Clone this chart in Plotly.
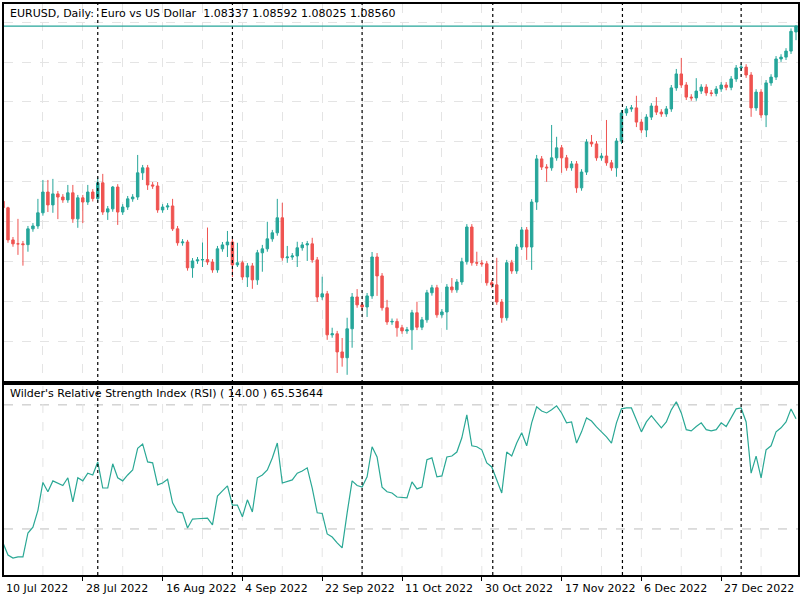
import plotly.graph_objects as go

closes = [1.0165,1.0043,1.0028,1.0028,1.0025,1.0085,1.0096,1.0146,1.0225,1.0176,
1.0218,1.0206,1.0195,1.0222,1.0123,1.0203,1.0187,1.0225,1.0200,1.0260,
1.0149,1.0161,1.0244,1.0149,1.0168,1.0199,1.0206,1.0298,1.0317,1.0252,
1.0248,1.0157,1.0168,1.0172,1.0085,1.0032,1.0035,0.9937,0.9963,0.9967,
0.9968,0.9959,0.9929,1.0009,1.0024,1.0035,0.9948,0.9956,0.9902,0.9944,
0.9891,0.9994,1.0009,1.0047,1.0070,1.0127,0.9975,0.9978,0.9982,1.0013,
1.0024,1.0028,0.9967,0.9826,0.9838,0.9682,0.9686,0.9617,0.9595,0.9705,
0.9826,0.9796,0.9788,0.9830,0.9978,0.9906,0.9785,0.9731,0.9733,0.9709,
0.9697,0.9701,0.9766,0.9711,0.9739,0.9842,0.9861,0.9758,0.9769,0.9864,
0.9853,0.9883,0.9960,1.0092,0.9956,0.9955,0.9952,0.9880,0.9872,0.9807,
0.9747,0.9956,0.9925,1.0016,1.0081,1.0016,1.0187,1.0351,1.0320,1.0317,
1.0355,1.0393,1.0355,1.0317,1.0332,1.0241,1.0301,1.0415,1.0408,1.0355,
1.0362,1.0336,1.0317,1.0419,1.0526,1.0541,1.0545,1.0491,1.0461,1.0510,
1.0552,1.0529,1.0522,1.0541,1.0621,1.0674,1.0632,1.0586,1.0583,1.0609,
1.0624,1.0602,1.0600,1.0617,1.0632,1.0623,1.0655,1.0697,1.0700,1.0670,
1.0545,1.0605,1.0518,1.0640,1.0662,1.0731,1.0738,1.0761,1.0836,1.0856]

first_open = 1.0190
last_bar_ohlc = [1.08337, 1.08592, 1.08025, 1.08560]

upper_wick = [0.0011,0.0004,0.0011,0.0095,0.0011,0.0011,0.0011,0.0053,0.0046,0.0046,
0.0057,0.0011,0.0011,0.0030,0.0030,0.0011,0.0011,0.0027,0.0011,0.0019,
0.0034,0.0011,0.0004,0.0011,0.0011,0.0011,0.0011,0.0068,0.0011,0.0011,
0.0011,0.0015,0.0011,0.0011,0.0027,0.0011,0.0011,0.0008,0.0011,0.0011,
0.0065,0.0122,0.0011,0.0011,0.0011,0.0042,0.0011,0.0076,0.0008,0.0011,
0.0011,0.0011,0.0015,0.0065,0.0011,0.0072,0.0057,0.0042,0.0011,0.0023,
0.0011,0.0011,0.0023,0.0011,0.0065,0.0011,0.0023,0.0011,0.0053,0.0042,
0.0015,0.0030,0.0011,0.0011,0.0019,0.0015,0.0011,0.0030,0.0011,0.0011,
0.0011,0.0011,0.0011,0.0042,0.0011,0.0011,0.0011,0.0011,0.0011,0.0011,
0.0034,0.0011,0.0015,0.0011,0.0011,0.0042,0.0011,0.0011,0.0011,0.0103,
0.0011,0.0011,0.0011,0.0011,0.0011,0.0011,0.0011,0.0015,0.0011,0.0011,
0.0125,0.0042,0.0011,0.0011,0.0011,0.0011,0.0011,0.0011,0.0027,0.0011,
0.0011,0.0137,0.0011,0.0011,0.0011,0.0011,0.0011,0.0046,0.0011,0.0011,
0.0011,0.0034,0.0011,0.0011,0.0011,0.0019,0.0061,0.0011,0.0011,0.0049,
0.0011,0.0011,0.0011,0.0011,0.0011,0.0011,0.0011,0.0011,0.0011,0.0011,
0.0011,0.0011,0.0011,0.0011,0.0011,0.0011,0.0011,0.0011,0.0011,0.0003]

lower_wick = [0.0011,0.0011,0.0011,0.0042,0.0080,0.0027,0.0011,0.0011,0.0011,0.0027,
0.0030,0.0084,0.0011,0.0011,0.0015,0.0034,0.0080,0.0011,0.0011,0.0011,
0.0011,0.0030,0.0011,0.0049,0.0011,0.0011,0.0011,0.0011,0.0027,0.0019,
0.0011,0.0011,0.0011,0.0011,0.0008,0.0011,0.0011,0.0011,0.0038,0.0011,
0.0027,0.0011,0.0011,0.0011,0.0011,0.0046,0.0046,0.0008,0.0011,0.0038,
0.0034,0.0019,0.0072,0.0011,0.0011,0.0011,0.0011,0.0019,0.0011,0.0042,
0.0011,0.0061,0.0011,0.0019,0.0011,0.0019,0.0011,0.0080,0.0034,0.0065,
0.0072,0.0011,0.0011,0.0038,0.0011,0.0076,0.0011,0.0011,0.0011,0.0034,
0.0011,0.0011,0.0076,0.0011,0.0011,0.0011,0.0011,0.0011,0.0011,0.0068,
0.0011,0.0011,0.0011,0.0011,0.0011,0.0011,0.0011,0.0011,0.0011,0.0011,
0.0019,0.0011,0.0011,0.0011,0.0011,0.0049,0.0087,0.0030,0.0011,0.0053,
0.0011,0.0011,0.0057,0.0011,0.0011,0.0019,0.0011,0.0011,0.0011,0.0011,
0.0011,0.0011,0.0011,0.0034,0.0011,0.0011,0.0011,0.0019,0.0011,0.0027,
0.0011,0.0011,0.0011,0.0011,0.0011,0.0011,0.0011,0.0011,0.0011,0.0011,
0.0011,0.0011,0.0011,0.0011,0.0011,0.0011,0.0011,0.0011,0.0011,0.0011,
0.0034,0.0011,0.0011,0.0046,0.0011,0.0011,0.0011,0.0011,0.0011,0.0031]

rsi = [25.5,21.6,20.6,21.0,21.0,28.7,30.6,36.0,45.0,42.0,
45.5,44.8,44.0,46.5,38.7,46.5,45.5,48.0,47.4,51.6,
43.2,43.2,51.0,46.5,45.5,47.4,49.0,56.0,57.4,51.6,
51.3,44.2,44.8,46.0,38.4,35.5,35.2,30.3,33.2,33.3,
33.5,33.5,31.3,40.6,42.3,43.9,37.7,37.7,33.9,39.4,
35.5,46.5,47.4,49.0,52.9,57.7,44.8,45.2,45.8,48.0,
48.7,49.7,43.2,35.2,35.0,28.4,27.4,25.5,23.9,35.2,
45.5,44.0,43.5,46.8,56.5,53.2,43.5,42.0,41.6,40.3,
40.1,40.0,45.2,42.9,43.5,52.3,52.9,46.8,47.1,53.2,
53.5,54.8,59.4,66.8,56.8,56.5,55.5,51.3,50.0,45.8,
41.6,54.8,53.5,57.7,61.0,56.8,64.2,69.4,68.0,67.4,
68.4,69.7,67.4,64.2,64.5,57.7,61.3,65.8,64.8,62.9,
61.3,59.7,57.7,64.2,68.7,69.0,69.0,65.2,61.3,64.5,
66.5,64.5,62.6,64.5,68.4,71.0,67.4,62.0,61.6,63.0,
64.2,62.0,61.6,62.0,64.2,63.0,66.1,68.7,69.0,64.5,
48.0,53.5,46.5,55.5,56.8,61.3,62.6,64.5,68.7,65.53644]

tick_labels = ["10 Jul 2022","28 Jul 2022","16 Aug 2022","4 Sep 2022","22 Sep 2022",
               "11 Oct 2022","30 Oct 2022","17 Nov 2022","6 Dec 2022","27 Dec 2022"]
tick_bars = [0,16,32,48,64,80,96,112,128,144]
separator_bars = [19,46,72,98.2,124.2,148]
rsi_levels = [70,30]

n = len(closes)
xs = list(range(n))
opens = [first_open] + closes[:-1]
opens[-1] = last_bar_ohlc[0]
highs = [max(o, c) + u for o, c, u in zip(opens, closes, upper_wick)]
lows = [min(o, c) - l for o, c, l in zip(opens, closes, lower_wick)]
highs[-1] = last_bar_ohlc[1]
lows[-1] = last_bar_ohlc[2]

GREEN = "#26a69a"
RED = "#ef5350"

fig = go.Figure()
fig.add_trace(go.Candlestick(
    x=xs, open=opens, high=highs, low=lows, close=closes,
    increasing=dict(line=dict(color=GREEN, width=1), fillcolor=GREEN),
    decreasing=dict(line=dict(color=RED, width=1), fillcolor=RED),
    whiskerwidth=0, xaxis="x", yaxis="y", showlegend=False, hoverinfo="skip"))
fig.add_trace(go.Scatter(x=xs, y=rsi, mode="lines", line=dict(color="#2aa895", width=1.2),
                         xaxis="x2", yaxis="y2", showlegend=False, hoverinfo="skip"))

xr = [0.2, 159.4]
grid = dict(showgrid=True, gridcolor="#e4e4e4", griddash="dash", gridwidth=1)
axis_common = dict(showline=True, linecolor="black", linewidth=1.5, mirror=True, zeroline=False)
fig.update_layout(
    width=800, height=600, paper_bgcolor="white", plot_bgcolor="white",
    margin=dict(l=4, r=0, t=4, b=25),
    xaxis=dict(range=xr, domain=[0, 1], anchor="y", showticklabels=False, ticks="",
               tick0=0, dtick=8, rangeslider=dict(visible=False), **grid, **axis_common),
    yaxis=dict(range=[0.9507, 1.0940], domain=[0.34, 1], showticklabels=False, ticks="",
               tick0=1.07194, dtick=0.0152, **grid, **axis_common),
    xaxis2=dict(range=xr, domain=[0, 1], anchor="y2", showticklabels=False,
                tickvals=tick_bars, ticks="outside", ticklen=4, tickcolor="black",
                **axis_common, showgrid=False),
    yaxis2=dict(range=[15.16, 76.45], domain=[0, 0.333], showticklabels=False, ticks="",
                showgrid=False, **axis_common),
)

shapes = []
for k in range(0, 161, 8):
    shapes.append(dict(type="line", xref="x2", yref="y2", x0=k, x1=k, y0=15.16, y1=76.45,
                       line=dict(color="#e4e4e4", width=1, dash="dash"), layer="below"))
for lv in rsi_levels:
    shapes.append(dict(type="line", xref="paper", yref="y2", x0=0, x1=1, y0=lv, y1=lv,
                       line=dict(color="#bdbdbd", width=1, dash="dash"), layer="below"))
for s in separator_bars:
    shapes.append(dict(type="line", xref="x", yref="paper", x0=s, x1=s, y0=0, y1=1,
                       line=dict(color="black", width=1.2, dash="3px,3px")))
shapes.append(dict(type="line", xref="paper", yref="y", x0=0, x1=1,
                   y0=last_bar_ohlc[3], y1=last_bar_ohlc[3], line=dict(color=GREEN, width=1.2)))
fig.update_layout(shapes=shapes)

font = dict(family="DejaVu Sans, Verdana", size=11, color="black")
ann = [
    dict(text="EURUSD, Daily:  Euro vs US Dollar  1.08337 1.08592 1.08025 1.08560",
         xref="paper", yref="paper", x=0.005, y=0.998, xanchor="left", yanchor="top",
         showarrow=False, font=font),
    dict(text="Wilder's Relative Strength Index (RSI) ( 14.00 ) 65.53644",
         xref="paper", yref="paper", x=0.005, y=0.333, xanchor="left", yanchor="top",
         showarrow=False, font=font),
]
for k, lab in zip(tick_bars, tick_labels):
    ann.append(dict(text=lab, xref="x2", yref="paper", x=k + 0.2, y=0, yshift=-5,
                    xanchor="left", yanchor="top", showarrow=False, font=font))
fig.update_layout(annotations=ann)

fig.write_html("out.html", config={"displayModeBar": False},
               post_script="document.body.style.margin='0px';document.body.style.overflow='hidden';")
